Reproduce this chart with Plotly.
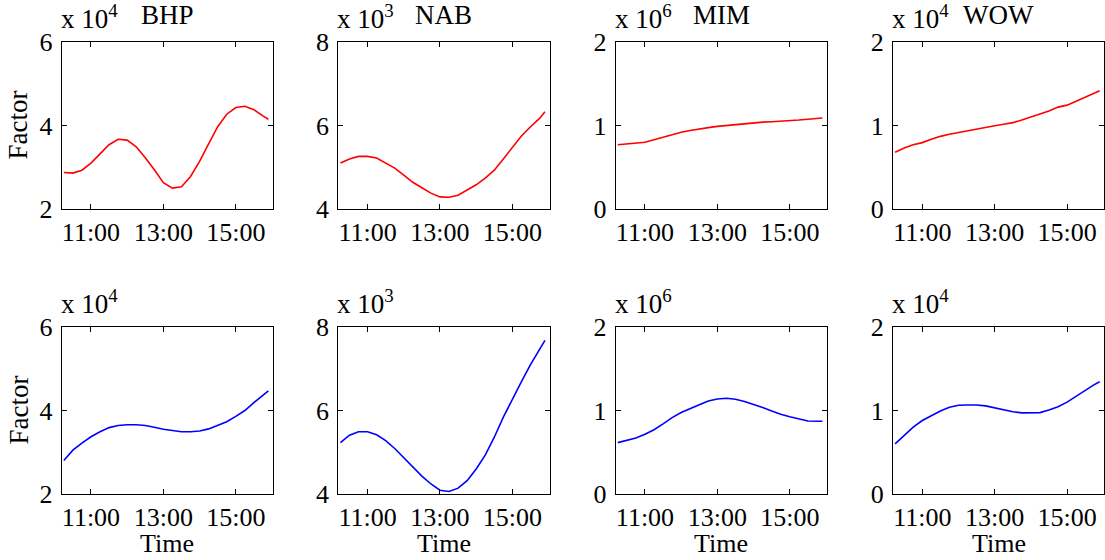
import plotly.graph_objects as go

W, H = 1105, 560

# ---------------- data ----------------
DAY = "2012-06-01 "
TIMES = [DAY + t for t in [
    "10:15", "10:30", "10:45", "11:00", "11:15", "11:30", "11:45", "12:00",
    "12:15", "12:30", "12:45", "13:00", "13:15", "13:30", "13:45", "14:00",
    "14:15", "14:30", "14:45", "15:00", "15:15", "15:30", "15:45", "15:54"]]

X_TICKS = [DAY + "11:00", DAY + "13:00", DAY + "15:00"]
X_TICK_TEXT = ["11:00", "13:00", "15:00"]
X_RANGE = [DAY + "10:11:30", DAY + "16:01:40"]

STOCKS = ["BHP", "NAB", "MIM", "WOW"]
EXPONENTS = [4, 3, 6, 4]
Y_TICKS = [[2, 4, 6], [4, 6, 8], [0, 1, 2], [0, 1, 2]]

# top row (red), values in units of 10^exponent
BHP_RED = [2.875, 2.86, 2.93, 3.10, 3.32, 3.54, 3.67, 3.65, 3.49, 3.23, 2.94, 2.63,
           2.50, 2.53, 2.78, 3.14, 3.56, 3.97, 4.27, 4.43, 4.46, 4.38, 4.23, 4.15]
NAB_RED = [5.10, 5.20, 5.26, 5.26, 5.22, 5.11, 4.98, 4.81, 4.64, 4.51, 4.38, 4.29,
           4.28, 4.33, 4.45, 4.58, 4.74, 4.93, 5.20, 5.47, 5.75, 5.97, 6.17, 6.33]
MIM_RED = [0.77, 0.78, 0.79, 0.80, 0.83, 0.86, 0.89, 0.92, 0.94, 0.96, 0.975, 0.99,
           1.00, 1.01, 1.025, 1.03, 1.04, 1.045, 1.05, 1.06, 1.065, 1.075, 1.085, 1.09]
WOW_RED = [0.68, 0.73, 0.77, 0.795, 0.835, 0.87, 0.895, 0.917, 0.938, 0.96, 0.978, 0.998,
           1.015, 1.034, 1.065, 1.10, 1.135, 1.175, 1.22, 1.244, 1.29, 1.335, 1.385, 1.415]

# bottom row (blue)
BHP_BLUE = [2.80, 3.05, 3.22, 3.37, 3.49, 3.59, 3.64, 3.66, 3.66, 3.64, 3.60, 3.55,
            3.52, 3.49, 3.49, 3.51, 3.56, 3.64, 3.73, 3.86, 4.00, 4.19, 4.36, 4.47]
NAB_BLUE = [5.23, 5.41, 5.49, 5.49, 5.42, 5.28, 5.09, 4.87, 4.65, 4.43, 4.24, 4.09,
            4.06, 4.14, 4.32, 4.60, 4.93, 5.36, 5.84, 6.28, 6.69, 7.10, 7.45, 7.68]
MIM_BLUE = [0.615, 0.64, 0.67, 0.715, 0.77, 0.84, 0.915, 0.975, 1.025, 1.07, 1.115, 1.137,
            1.147, 1.135, 1.108, 1.074, 1.035, 0.995, 0.955, 0.925, 0.903, 0.875, 0.872, 0.872]
WOW_BLUE = [0.60, 0.70, 0.80, 0.88, 0.94, 0.995, 1.04, 1.063, 1.065, 1.065, 1.055, 1.032,
            1.01, 0.985, 0.972, 0.972, 0.975, 1.005, 1.045, 1.10, 1.17, 1.245, 1.31, 1.345]

RED_SERIES = [BHP_RED, NAB_RED, MIM_RED, WOW_RED]
BLUE_SERIES = [BHP_BLUE, NAB_BLUE, MIM_BLUE, WOW_BLUE]

# ---------------- layout geometry (pixels) ----------------
COL_LEFT = [61.7, 338.3, 615.7, 893.0]
COL_W = 211.3
ROW_TOP = [42.0, 327.0]
ROW_H = 167.0

FONT = "Liberation Serif, Times New Roman, serif"
TICK_SIZE = 26
LABEL_SIZE = 27

def px_x(x):
    return x / W

def px_y(y):
    return 1 - y / H

fig = go.Figure()
layout = dict(
    template="none",
    width=W, height=H,
    margin=dict(l=0, r=0, t=0, b=0, pad=0, autoexpand=False),
    paper_bgcolor="white", plot_bgcolor="white",
    showlegend=False,
    font=dict(family=FONT, color="black"),
)
annotations = []

idx = 0
for r, (series_list, color) in enumerate([(RED_SERIES, "#ff0000"), (BLUE_SERIES, "#0000ff")]):
    for c in range(4):
        idx += 1
        xa = "x" if idx == 1 else f"x{idx}"
        ya = "y" if idx == 1 else f"y{idx}"
        fig.add_trace(go.Scatter(x=TIMES, y=series_list[c], mode="lines",
                                 line=dict(color=color, width=1.6),
                                 xaxis=xa, yaxis=ya, hoverinfo="skip"))
        x0 = px_x(COL_LEFT[c]); x1 = px_x(COL_LEFT[c] + COL_W)
        y1 = px_y(ROW_TOP[r]); y0 = px_y(ROW_TOP[r] + ROW_H)
        yt = Y_TICKS[c]
        common = dict(showline=True, linecolor="black", linewidth=1, mirror="ticks",
                      ticks="inside", ticklen=5, tickcolor="black", tickwidth=1,
                      showgrid=False, zeroline=False, automargin=False,
                      tickfont=dict(family=FONT, size=TICK_SIZE, color="black"))
        layout["xaxis" if idx == 1 else f"xaxis{idx}"] = dict(
            domain=[x0, x1], anchor=ya, type="date", range=X_RANGE,
            tickvals=X_TICKS, ticktext=X_TICK_TEXT, ticklabelstandoff=0, **common)
        layout["yaxis" if idx == 1 else f"yaxis{idx}"] = dict(
            domain=[y0, y1], anchor=xa, range=[yt[0], yt[-1]],
            tickvals=yt, ticktext=[str(v) for v in yt], ticklabelstandoff=3, **common)
        # exponent label
        annotations.append(dict(
            text=f"x 10<sup>{EXPONENTS[c]}</sup>", xref="paper", yref="paper",
            x=px_x(COL_LEFT[c] - 3), y=px_y(ROW_TOP[r] - 6), xanchor="left", yanchor="bottom",
            showarrow=False, font=dict(family=FONT, size=LABEL_SIZE, color="black")))
        if r == 0:
            annotations.append(dict(
                text=STOCKS[c], xref="paper", yref="paper",
                x=px_x(COL_LEFT[c] + COL_W / 2), y=px_y(15), xanchor="center", yanchor="middle",
                showarrow=False, font=dict(family=FONT, size=LABEL_SIZE, color="black")))
        else:
            annotations.append(dict(
                text="Time", xref="paper", yref="paper",
                x=px_x(COL_LEFT[c] + COL_W / 2), y=px_y(543), xanchor="center", yanchor="middle",
                showarrow=False, font=dict(family=FONT, size=26, color="black")))
    annotations.append(dict(
        text="Factor", xref="paper", yref="paper", textangle=-90,
        x=px_x(18), y=px_y(ROW_TOP[r] + ROW_H / 2), xanchor="center", yanchor="middle",
        showarrow=False, font=dict(family=FONT, size=LABEL_SIZE, color="black")))

layout["annotations"] = annotations
fig.update_layout(**layout)
fig.write_html("out.html",
               config={"displayModeBar": False, "staticPlot": True},
               post_script="document.body.style.margin='0';document.body.style.overflow='hidden';")
